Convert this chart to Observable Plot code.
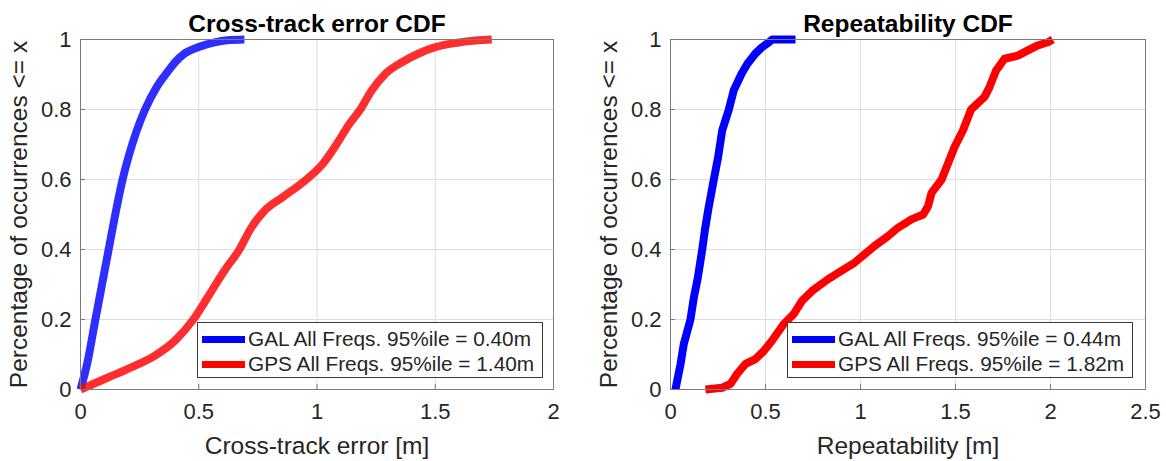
<!DOCTYPE html>
<html>
<head>
<meta charset="utf-8">
<script src="https://cdn.jsdelivr.net/npm/d3@7"></script>
<script src="https://cdn.jsdelivr.net/npm/@observablehq/plot@0.6"></script>
<style>
  html, body { margin: 0; padding: 0; background: #fff; overflow: hidden; }
  #wrap { position: relative; width: 1166px; height: 461px; font-family: "Liberation Sans", Arial, sans-serif; }
  .panel { position: absolute; top: 0; }
  .legend { position: absolute; background: #fff; border: 1px solid #3a3a3a; box-sizing: border-box; }
  .legend .row { position: absolute; left: 0; right: 0; height: 24px; }
  .legend .swatch { position: absolute; left: 4px; width: 43px; height: 7px; top: 9px; }
  .legend .lab { position: absolute; left: 50px; top: 0; line-height: 24px; font-size: 20.8px; color: #262626; white-space: nowrap; }
</style>
</head>
<body>
<div id="wrap">
  <div id="left" class="panel" style="left:0px"></div>
  <div id="right" class="panel" style="left:586px"></div>
</div>
<script>
// ---------------- data ----------------
const yTicks = [0, 0.2, 0.4, 0.6, 0.8, 1];
const xTicksLeft = [0, 0.5, 1, 1.5, 2];
const xTicksRight = [0, 0.5, 1, 1.5, 2, 2.5];

const titles = ["Cross-track error CDF", "Repeatability CDF"];
const xLabels = ["Cross-track error [m]", "Repeatability [m]"];
const yLabel = "Percentage of occurrences <= x";
const seriesNames = ["GAL", "GPS"];
const legendLeft = ["GAL All Freqs. 95%ile = 0.40m", "GPS All Freqs. 95%ile = 1.40m"];
const legendRight = ["GAL All Freqs. 95%ile = 0.44m", "GPS All Freqs. 95%ile = 1.82m"];

// Cross-track error CDF
const ctGalX = [0, 0.028, 0.063, 0.091, 0.119, 0.147, 0.178, 0.203, 0.238, 0.273, 0.322, 0.371, 0.40, 0.44, 0.497, 0.567, 0.62, 0.693];
const ctGalY = [0, 0.073, 0.2, 0.3, 0.4, 0.5, 0.6, 0.665, 0.74, 0.8, 0.864, 0.91, 0.935, 0.96, 0.978, 0.992, 0.998, 1.0];
const ctGpsX = [0, 0.119, 0.217, 0.315, 0.4, 0.477, 0.539, 0.609, 0.672, 0.72, 0.777, 0.856, 0.955, 1.025, 1.082, 1.138, 1.183, 1.232, 1.289, 1.359, 1.43, 1.5, 1.585, 1.669, 1.739];
const ctGpsY = [0, 0.035, 0.064, 0.097, 0.14, 0.2, 0.265, 0.34, 0.4, 0.46, 0.51, 0.55, 0.6, 0.645, 0.70, 0.76, 0.8, 0.855, 0.902, 0.935, 0.96, 0.978, 0.99, 0.997, 1.0];

// Repeatability CDF
const rpGalX = [0.026, 0.053, 0.07, 0.105, 0.123, 0.144, 0.167, 0.181, 0.198, 0.228, 0.251, 0.272, 0.307, 0.333, 0.374, 0.404, 0.447, 0.482, 0.518, 0.535, 0.658];
const rpGalY = [0, 0.073, 0.13, 0.2, 0.263, 0.32, 0.4, 0.455, 0.512, 0.6, 0.665, 0.74, 0.8, 0.855, 0.902, 0.93, 0.96, 0.978, 0.992, 1.0, 1.0];
const rpGpsX = [0.184, 0.272, 0.316, 0.351, 0.395, 0.447, 0.491, 0.535, 0.596, 0.649, 0.693, 0.746, 0.826, 0.897, 0.968, 1.021, 1.074, 1.144, 1.197, 1.268, 1.33, 1.356, 1.374, 1.427, 1.46, 1.495, 1.539, 1.582, 1.653, 1.679, 1.714, 1.758, 1.828, 1.881, 1.933, 1.986, 2.012];
const rpGpsY = [0, 0.005, 0.016, 0.045, 0.073, 0.087, 0.11, 0.14, 0.187, 0.216, 0.254, 0.282, 0.314, 0.338, 0.362, 0.386, 0.41, 0.438, 0.462, 0.486, 0.5, 0.524, 0.562, 0.6, 0.645, 0.693, 0.74, 0.8, 0.836, 0.864, 0.912, 0.945, 0.954, 0.969, 0.983, 0.992, 1.0];

const colors = {GAL: "#0000ff", GPS: "#ff0000"};

// ---------------- drawing ----------------
function panel({width, marginLeft, marginRight, xDomain, xTicks, title, xLabel, series, curve, opacity}) {
  const fmt = d => String(d);
  return Plot.plot({
    width, height: 461,
    marginLeft, marginRight, marginTop: 39, marginBottom: 72,
    x: {domain: xDomain, ticks: xTicks},
    y: {domain: [0, 1], ticks: yTicks},
    style: {fontFamily: "Liberation Sans, Arial, sans-serif", background: "white", color: "#262626", overflow: "visible"},
    marks: [
      Plot.gridX(xTicks, {stroke: "#dedede", strokeOpacity: 1}),
      Plot.gridY(yTicks, {stroke: "#dedede", strokeOpacity: 1}),
      ...series.map(s => Plot.line(s.x, {x: s.x, y: s.y, stroke: colors[s.name], strokeWidth: 8, strokeOpacity: opacity, curve, strokeLinecap: "butt", strokeLinejoin: "round"})),
      Plot.frame({stroke: "#7a7a7a"}),
      Plot.axisX(xTicks, {tickSize: -5, tickPadding: 19, tickFormat: fmt, fontSize: 22, label: null, stroke: "#7a7a7a", fill: "#262626"}),
      Plot.axisY(yTicks, {tickSize: -5, tickPadding: 14, tickFormat: fmt, fontSize: 22, label: null, stroke: "#7a7a7a", fill: "#262626"}),
      Plot.text([xLabel], {frameAnchor: "bottom", lineAnchor: "middle", dy: 57, fontSize: 24.5, fill: "#262626"}),
      Plot.text([yLabel], {frameAnchor: "left", textAnchor: "middle", lineAnchor: "middle", dx: -61, rotate: -90, fontSize: 24.5, fill: "#262626"}),
      Plot.text([title], {frameAnchor: "top", lineAnchor: "middle", dy: -15, fontSize: 24.5, fontWeight: "bold", fill: "#000"})
    ]
  });
}

document.getElementById("left").append(panel({
  width: 583, marginLeft: 80, marginRight: 30,
  xDomain: [0, 2], xTicks: xTicksLeft,
  title: titles[0], xLabel: xLabels[0],
  series: [{name: "GAL", x: ctGalX, y: ctGalY}, {name: "GPS", x: ctGpsX, y: ctGpsY}],
  curve: "monotone-x", opacity: 0.82
}));
document.getElementById("right").append(panel({
  width: 580, marginLeft: 84, marginRight: 21,
  xDomain: [0, 2.5], xTicks: xTicksRight,
  title: titles[1], xLabel: xLabels[1],
  series: [{name: "GAL", x: rpGalX, y: rpGalY}, {name: "GPS", x: rpGpsX, y: rpGpsY}],
  curve: "linear", opacity: 1
}));

function legend(left, labels) {
  const box = document.createElement("div");
  box.className = "legend";
  Object.assign(box.style, {left: left + "px", top: "322px", width: "346px", height: "56px"});
  labels.forEach((t, i) => {
    const row = document.createElement("div");
    row.className = "row";
    row.style.top = (4 + i * 25) + "px";
    const sw = document.createElement("div");
    sw.className = "swatch";
    sw.style.background = colors[seriesNames[i]];
    const lab = document.createElement("div");
    lab.className = "lab";
    lab.textContent = t;
    row.append(sw, lab);
    box.append(row);
  });
  document.getElementById("wrap").append(box);
}
legend(197, legendLeft);
legend(787, legendRight);
</script>
</body>
</html>
